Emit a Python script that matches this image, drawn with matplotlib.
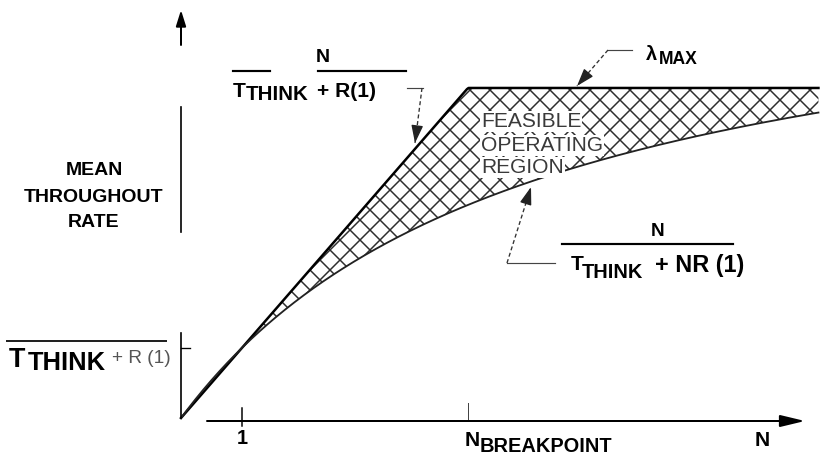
import numpy as np
import matplotlib
matplotlib.use("Agg")
import matplotlib.pyplot as plt

plt.rcParams['font.family'] = ['Liberation Sans', 'DejaVu Sans']
plt.rcParams['hatch.linewidth'] = 0.9
plt.rcParams['hatch.color'] = '#2e2e2e'

DPI = 120
W, H = 821, 458

# Model parameters (think time, response time with one user, max throughput)
T_THINK = 5.75
R_1 = 1.0
LAMBDA_MAX = 0.697
N_END = 10.45

# Drawing frame: pixel position of N=0 / zero rate and pixels per unit
X0, SX = 181, 61.0
Y0, SY = 418, 473.5


def P(x, y):
    """pixel position (from top-left) -> data coordinates"""
    return (x - X0) / SX, (Y0 - y) / SY


def seg(x1, y1, x2, y2, **kw):
    a, b = P(x1, y1), P(x2, y2)
    ax.plot([a[0], b[0]], [a[1], b[1]], **kw)


def txt(x, y, s, size_px, **kw):
    kw.setdefault('ha', 'left')
    kw.setdefault('va', 'baseline')
    kw.setdefault('fontweight', 'bold')
    ax.text(*P(x, y), s, fontsize=size_px * 72 / DPI, **kw)


def leader(x1, y1, x2, y2):
    # dashed pointer with a solid head at (x2, y2)
    seg(x1, y1, x2, y2, color='#333', lw=0.8, ls=(0, (3, 2)))
    d = np.hypot(x2 - x1, y2 - y1)
    bx, by = x2 - (x2 - x1) / d * 9, y2 - (y2 - y1) / d * 9
    ax.annotate('', xy=P(x2, y2), xytext=P(bx, by),
                arrowprops=dict(arrowstyle='-|>,head_length=0.9,head_width=0.3',
                                color='#222', lw=0.8, shrinkA=0, shrinkB=0,
                                mutation_scale=10))


fig = plt.figure(figsize=(W / DPI, H / DPI), dpi=DPI)
ax = fig.add_axes([0, 0, 1, 1])
ax.set_xlim(P(0, 0)[0], P(W, 0)[0])
ax.set_ylim(P(0, H)[1], P(0, 0)[1])
ax.axis('off')

n = np.linspace(0, N_END, 400)
upper = np.minimum(n / (T_THINK + R_1), LAMBDA_MAX)
lower = n / (T_THINK + n * R_1)
n_break = LAMBDA_MAX * (T_THINK + R_1)
one_user = 1 / (T_THINK + R_1)

# feasible region between the two bounds
ax.fill_between(n, lower, upper, where=n >= 1, facecolor='white',
                edgecolor='#2e2e2e', hatch='xx', linewidth=0)
ax.plot(n, upper, color='black', lw=1.5)
ax.plot(n, lower, color='#222', lw=1.1)

# axes
ax.annotate('', xy=P(805, 421), xytext=P(207, 421),
            arrowprops=dict(arrowstyle='-|>,head_length=1.25,head_width=0.3',
                            color='black', lw=1.2, shrinkA=0, shrinkB=0,
                            mutation_scale=10))
seg(181, 418, 181, 333, color='black', lw=1.0)
seg(181, 232, 181, 107, color='black', lw=1.0)
ax.annotate('', xy=P(181, 10), xytext=P(181, 45),
            arrowprops=dict(arrowstyle='-|>,head_length=0.8,head_width=0.25',
                            color='black', lw=1.2, shrinkA=0, shrinkB=0,
                            mutation_scale=10))

# ticks
ax.plot([0, 9 / SX], [one_user, one_user], color='black', lw=0.8)
ax.plot([1, 1], [P(0, 408)[1], P(0, 426)[1]], color='black', lw=0.9)
ax.plot([n_break, n_break], [P(0, 403)[1], P(0, 421)[1]], color='#444', lw=0.6)

# axis labels
for s, yb in [('MEAN', 175), ('THROUGHOUT', 202), ('RATE', 227)]:
    txt(94, yb, s, 19.5, ha='center')
txt(242, 444, '1', 20, ha='center')
txt(465, 446, 'N', 21)
txt(480, 452, 'BREAKPOINT', 20)
txt(762, 446, 'N', 21, ha='center')

# 1 / (T_think + R(1)) on the rate axis
seg(7, 341, 166, 341, color='#222', lw=1.2)
txt(9, 367, 'T', 27)
txt(28, 370, 'THINK', 25.5)
txt(112, 363, '+ R (1)', 19, fontweight='normal', color='#555')

# upper bound label
txt(323, 62, 'N', 19.5, ha='center')
seg(233, 71, 270, 71, color='black', lw=1.3)
seg(318, 71, 406, 71, color='black', lw=1.3)
txt(233, 97, 'T', 21)
txt(246, 100, 'THINK', 20.5)
txt(317, 97, '+ R(1)', 21)
seg(407, 88, 423, 88, color='#444', lw=0.7)
leader(422, 88, 415, 143)

# lambda max label
txt(646, 60, 'λ', 20)
txt(659, 64, 'MAX', 17.5)
seg(608, 50, 632, 50, color='#444', lw=0.7)
leader(608, 50, 577, 86)

# lower bound label
txt(658, 236, 'N', 19, ha='center')
seg(562, 244, 733, 244, color='black', lw=1.3)
txt(571, 270, 'T', 21)
txt(582, 278, 'THINK', 20)
txt(655, 272, '+ NR (1)', 23.5)
seg(507, 263, 555, 263, color='#444', lw=0.7)
leader(507, 263, 531, 187)

# region label
for s, yb in [('FEASIBLE', 127), ('OPERATING', 151), ('REGION', 173)]:
    txt(481, yb, s, 21, fontweight='normal', color='#3a3a3a',
        bbox=dict(facecolor='white', edgecolor='none', pad=0.5))

fig.savefig('out.png', dpi=DPI)
